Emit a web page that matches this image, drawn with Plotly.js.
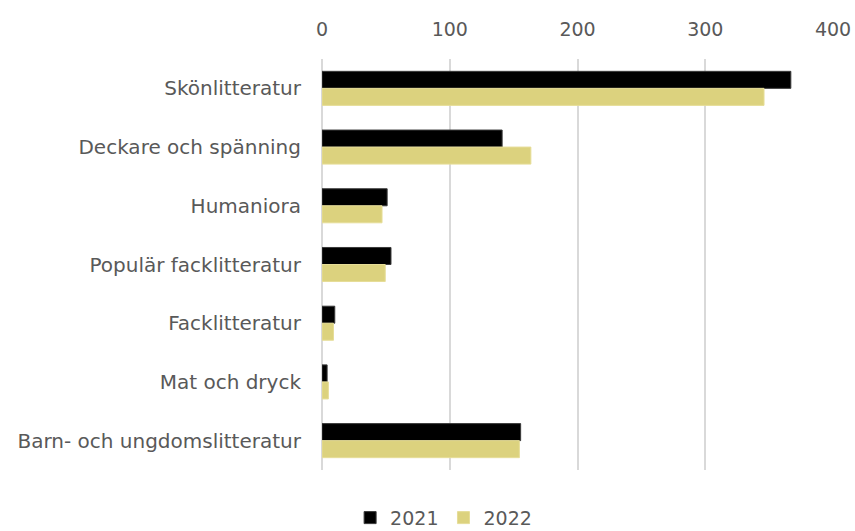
<!DOCTYPE html>
<html>
<head>
<meta charset="utf-8">
<script src="https://cdn.plot.ly/plotly-3.0.1.min.js"></script>
<style>html,body{margin:0;padding:0;background:#fff;}#chart{width:855px;height:531px;}</style>
</head>
<body>
<div id="chart"></div>
<script>
const categories = ["Skönlitteratur","Deckare och spänning","Humaniora","Populär facklitteratur","Facklitteratur","Mat och dryck","Barn- och ungdomslitteratur"];
const values2021 = [367, 141, 51, 54, 10, 4, 155.5];
const values2022 = [346, 163.5, 47, 49.5, 9, 5, 154.5];
const seriesNames = ["2021","2022"];
const xTicks = [0,100,200,300,400];

const font = {family: "'DejaVu Sans', sans-serif", color: "#595959"};

const traces = [
  {type:"bar", orientation:"h", name:seriesNames[0], y:categories, x:values2021,
   marker:{color:"#000000", line:{color:"#3a3a3a", width:1}}},
  {type:"bar", orientation:"h", name:seriesNames[1], y:categories, x:values2022,
   marker:{color:"#dcd27e", line:{color:"#e6dd98", width:1}}}
];

const layout = {
  width:855, height:531,
  margin:{l:322, r:22, t:59, b:61, autoexpand:false},
  paper_bgcolor:"#fff", plot_bgcolor:"#fff",
  barmode:"group", bargap:0.42, bargroupgap:0,
  font:font,
  showlegend:true,
  legend:{orientation:"h", x:0.238, xanchor:"center", y:-0.07, yanchor:"top",
          font:{family:font.family, color:"#595959", size:19}, traceorder:"normal", itemwidth:30},
  xaxis:{side:"top", range:[0,400], tickvals:xTicks, ticktext:xTicks.map(String), automargin:false,
         showgrid:true, gridcolor:"#d9d9d9", gridwidth:2, zeroline:true, zerolinecolor:"#d9d9d9", zerolinewidth:2,
         showline:false, ticks:"", tickfont:{size:19, color:"#595959"}, ticklabelstandoff:18, fixedrange:true},
  yaxis:{autorange:"reversed", type:"category", showgrid:false, showline:false, ticks:"", automargin:false,
         tickfont:{size:20, color:"#595959"}, ticklabelstandoff:20, zeroline:false}
};

Plotly.newPlot("chart", traces, layout, {displayModeBar:false, staticPlot:true});
</script>
</body>
</html>
